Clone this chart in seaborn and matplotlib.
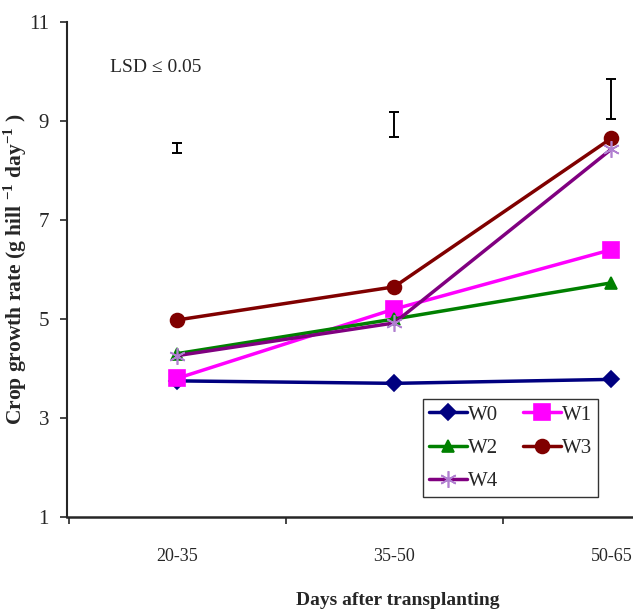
import pandas as pd
import numpy as np
import matplotlib
matplotlib.use("Agg")
import matplotlib.pyplot as plt
import seaborn as sns

# data
periods = ["20-35", "35-50", "50-65"]
series = ["W0", "W1", "W2", "W3", "W4"]
w0 = [3.75, 3.70, 3.78]
w1 = [3.80, 5.20, 6.40]
w2 = [4.30, 5.00, 5.73]
w3 = [4.98, 5.65, 8.65]
w4 = [4.26, 4.92, 8.43]
lsd_center = [8.45, 8.93, 9.45]
lsd_half = [0.10, 0.25, 0.40]

sns.set_style("white")
plt.rcParams["font.family"] = ["Liberation Serif", "DejaVu Serif"]
plt.rcParams["mathtext.fontset"] = "custom"
plt.rcParams["mathtext.rm"] = "Liberation Serif"
plt.rcParams["mathtext.bf"] = "Liberation Serif:bold"

df = pd.DataFrame({
    "pos": list(range(3)) * 5,
    "value": w0 + w1 + w2 + w3 + w4,
    "series": np.repeat(series, 3),
})

colors = {"W0": "#000080", "W1": "#FF00FF", "W2": "#008000", "W3": "#800000", "W4": "#800080"}
markers = {"W0": "D", "W1": "s", "W2": "^", "W3": "o", "W4": (6, 2, 0)}
msizes = {"W0": 8, "W1": 11, "W2": 8, "W3": 10, "W4": 12}
medge = {"W0": "#000080", "W1": "#FF00FF", "W2": "#008000", "W3": "#800000", "W4": "#B07FD0"}

fig = plt.figure(figsize=(6.33, 6.11), dpi=100)
ax = fig.add_axes([67 / 633, 94 / 611, 566 / 633, 495 / 611])

for s in series:
    sub = df[df["series"] == s]
    sns.lineplot(data=sub, x="pos", y="value", ax=ax, color=colors[s], marker=markers[s],
                 markersize=msizes[s], markeredgecolor=medge[s], markerfacecolor=colors[s],
                 markeredgewidth=1.2, linewidth=2.5, label=s, clip_on=False)

ax.errorbar(range(3), lsd_center, yerr=lsd_half, fmt="none", ecolor="black",
            elinewidth=1.4, capsize=3.3, capthick=1.4)

ax.text(0.076, 0.909, "LSD ≤ 0.05", transform=ax.transAxes, fontsize=14, va="center")

ax.set_ylim(1, 11)
ax.set_yticks([1, 3, 5, 7, 9, 11])
ax.set_xlim(-0.507, 2.1)
ax.set_xticks(range(3))
ax.set_xticklabels(periods)
ax.set_xticks([-0.5, 0.5, 1.5], minor=True)
ax.tick_params(axis="x", which="major", length=0, pad=22, labelsize=13)
ax.tick_params(axis="x", which="minor", length=5, width=1.2, direction="out", bottom=True)
ax.tick_params(axis="y", length=5, width=1.2, direction="out", left=True, pad=8, labelsize=15)

for sp in ["top", "right"]:
    ax.spines[sp].set_visible(False)
ax.spines["left"].set_linewidth(1.5)
ax.spines["bottom"].set_linewidth(1.8)

ax.set_xlabel("")
ax.set_ylabel(r"Crop growth rate (g hill $^{\mathbf{-1}}$ day$^{\mathbf{-1}}$ )",
              fontsize=15.5, fontweight="bold")
ax.yaxis.set_label_coords(-0.068, 0.5)
fig.text(398 / 633, 2 / 611, "Days after transplanting", fontsize=14,
         fontweight="bold", ha="center", va="bottom")

h, l = ax.get_legend_handles_labels()
order = [0, 2, 4, 1, 3]
leg = ax.legend([h[i] for i in order], [l[i] for i in order], ncol=2, loc="lower left",
                bbox_to_anchor=(0.629, 0.04), borderaxespad=0, frameon=True, fancybox=False,
                edgecolor="black", fontsize=15, handlelength=1.8, handletextpad=0.05,
                columnspacing=1.2, borderpad=0.3, labelspacing=0.65)
leg.get_frame().set_linewidth(1.0)

fig.savefig("out.png", dpi=100)
